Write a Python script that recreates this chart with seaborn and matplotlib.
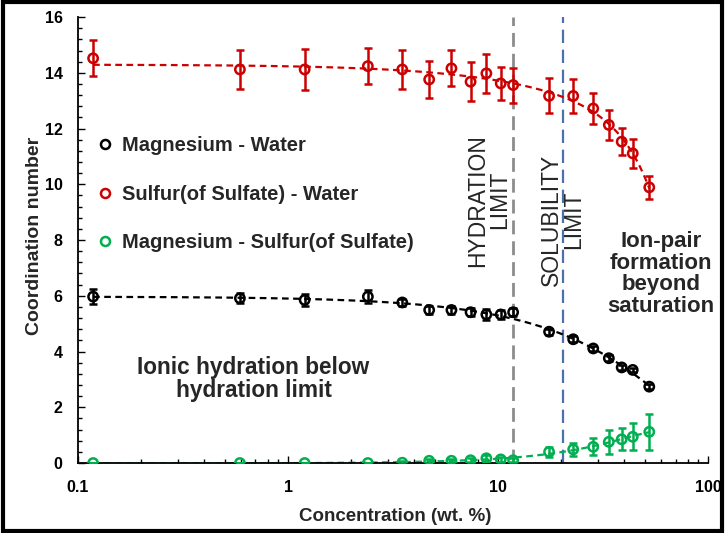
import numpy as np
import pandas as pd
import matplotlib
matplotlib.use("Agg")
import matplotlib.pyplot as plt
import seaborn as sns
from matplotlib.lines import Line2D
from matplotlib.patches import Rectangle
from matplotlib.ticker import MultipleLocator, LogLocator, FixedLocator, FixedFormatter, NullFormatter

# ---------------- data ----------------
conc = [0.118, 0.59, 1.2, 2.4, 3.5, 4.7, 6.0, 7.4, 8.8, 10.3, 11.8,
        17.5, 22.8, 28.4, 33.7, 38.8, 43.8, 52.5]

mg_water = [5.97, 5.91, 5.85, 5.97, 5.76, 5.49, 5.49, 5.41, 5.33, 5.33, 5.41,
            4.71, 4.44, 4.11, 3.76, 3.43, 3.34, 2.74]
mg_water_err = [0.28, 0.18, 0.20, 0.22, 0.12, 0.15, 0.15, 0.15, 0.20, 0.15, 0.15,
                0.10, 0.10, 0.08, 0.10, 0.08, 0.08, 0.08]

s_water = [14.52, 14.12, 14.12, 14.24, 14.12, 13.76, 14.16, 13.68, 13.98, 13.62, 13.56,
           13.17, 13.17, 12.72, 12.13, 11.53, 11.11, 9.89]
s_water_err = [0.65, 0.70, 0.74, 0.65, 0.70, 0.65, 0.65, 0.70, 0.70, 0.60, 0.63,
               0.63, 0.61, 0.56, 0.54, 0.48, 0.52, 0.40]

mg_s = [0.0, 0.0, 0.0, 0.0, 0.01, 0.08, 0.08, 0.10, 0.17, 0.13, 0.10,
        0.40, 0.49, 0.58, 0.76, 0.85, 0.94, 1.12]
mg_s_err = [0.0, 0.0, 0.0, 0.0, 0.05, 0.08, 0.08, 0.08, 0.10, 0.10, 0.08,
            0.18, 0.24, 0.30, 0.42, 0.40, 0.48, 0.65]

series_names = ["Magnesium - Water", "Sulfur(of Sulfate) - Water", "Magnesium - Sulfur(of Sulfate)"]
series_colors = ["#000000", "#cc0000", "#00b050"]

hydration_limit = 11.8
solubility_limit = 20.5

x_ticks = [0.1, 1, 10, 100]
x_tick_labels = ["0.1", "1", "10", "100"]
y_ticks = [0, 2, 4, 6, 8, 10, 12, 14, 16]

# ---------------- figure ----------------
sns.set_theme(style="ticks")
plt.rcParams["font.family"] = ["Liberation Sans", "DejaVu Sans"]
plt.rcParams["font.weight"] = "bold"

fig = plt.figure(figsize=(7.25, 5.33), dpi=100)
ax = fig.add_axes([0.1076, 0.1313, 0.8690, 0.8367])

values = [mg_water, s_water, mg_s]
errors = [mg_water_err, s_water_err, mg_s_err]

for name, col, vals, err in zip(series_names, series_colors, values, errors):
    df = pd.DataFrame({"conc": conc, "cn": vals, "err": err})
    # polynomial trendline (fit to the data, like a spreadsheet trendline)
    coef = np.polyfit(df["conc"], df["cn"], 3)
    xf = np.geomspace(min(conc), max(conc), 300)
    fit = pd.DataFrame({"conc": xf, "cn": np.polyval(coef, xf)})
    sns.lineplot(data=fit, x="conc", y="cn", ax=ax, color=col, lw=1.6,
                 linestyle=(0, (3, 2)), zorder=2)
    ax.errorbar(df["conc"], df["cn"], yerr=df["err"], fmt="none", ecolor=col,
                elinewidth=1.8, capsize=3, capthick=1.8, zorder=3)
    sns.scatterplot(data=df, x="conc", y="cn", ax=ax, marker="o", s=45,
                    facecolors="none", edgecolor=col, linewidth=1.8, zorder=4)

ax.axvline(hydration_limit, color="#8c8c8c", lw=2, linestyle=(0, (5, 2.5)), zorder=1)
ax.axvline(solubility_limit, color="#4a72a8", lw=1.6, linestyle=(0, (6, 3)), zorder=1)

ax.set_xscale("log")
ax.set_xlim(0.1, 100)
ax.set_ylim(0, 16)
ax.xaxis.set_major_locator(FixedLocator(x_ticks))
ax.xaxis.set_major_formatter(FixedFormatter(x_tick_labels))
ax.xaxis.set_minor_locator(LogLocator(base=10, subs=np.arange(2, 10)))
ax.xaxis.set_minor_formatter(NullFormatter())
ax.yaxis.set_major_locator(FixedLocator(y_ticks))
ax.yaxis.set_minor_locator(MultipleLocator(0.4))
ax.tick_params(axis="both", which="both", direction="in", labelsize=11.5, width=1, colors="black")
ax.tick_params(axis="both", which="major", length=5)
ax.tick_params(axis="x", which="major", pad=12)
ax.tick_params(axis="y", which="major", pad=11)
ax.tick_params(axis="both", which="minor", length=3)
for lab in ax.get_xticklabels() + ax.get_yticklabels():
    lab.set_fontweight("bold")
for s in ["top", "right"]:
    ax.spines[s].set_visible(False)
for s in ["left", "bottom"]:
    ax.spines[s].set_color("black")
    ax.spines[s].set_linewidth(1.3)

ax.set_xlabel("Concentration (wt. %)", fontsize=13.5, fontweight="bold", va="center")
ax.xaxis.set_label_coords(0.503, -0.119)
ax.set_ylabel("Coordination number", fontsize=14, fontweight="bold", va="center")
ax.yaxis.set_label_coords(-0.069, 0.51)

handles = [Line2D([], [], ls="none", marker="o", markersize=6.5, markerfacecolor="none",
                  markeredgecolor=c, markeredgewidth=1.8) for c in series_colors]
leg = ax.legend(handles, series_names, loc="upper left", bbox_to_anchor=(-0.002, 0.773),
                frameon=False, labelspacing=1.45, handlelength=1.0, handletextpad=0.35,
                borderaxespad=0.5, prop={"size": 14.5, "weight": "bold"})

ax.text(0.685, 3.01, "Ionic hydration below\nhydration limit", ha="center", va="center",
        fontsize=16.3, fontweight="bold", linespacing=1.0)
ax.text(59.7, 6.78, "Ion-pair\nformation\nbeyond\nsaturation", ha="center", va="center",
        fontsize=16, fontweight="bold", linespacing=1.05)
ax.text(9.06, 9.43, "HYDRATION\nLIMIT", ha="center", va="center", rotation=90,
        fontsize=16.5, fontweight="normal", linespacing=0.95)
ax.text(20.2, 8.72, "SOLUBILITY\nLIMIT", ha="center", va="center", rotation=90,
        fontsize=16.5, fontweight="normal", linespacing=0.95)

fig.patches.append(Rectangle((0.004, 0.004), 0.992, 0.992, transform=fig.transFigure,
                             fill=False, edgecolor="black", linewidth=3))

fig.savefig("out.png", dpi=100)
